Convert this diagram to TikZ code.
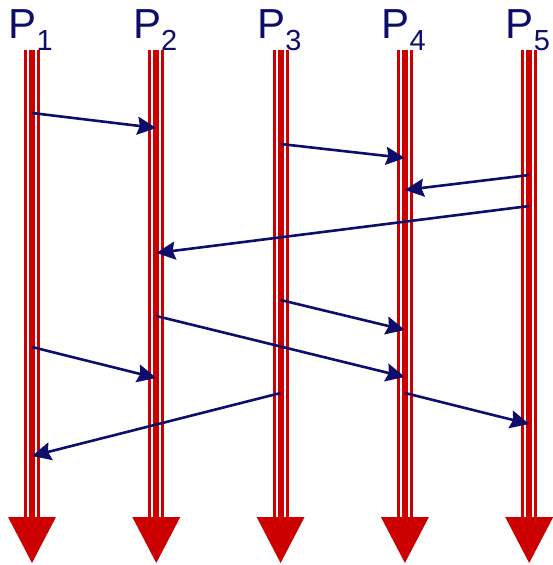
\documentclass[tikz,border=0pt]{standalone}
\usepackage{fontspec}
\setmainfont{Liberation Sans}
\usetikzlibrary{arrows.meta, calc}
\definecolor{cred}{HTML}{CC0000}
\definecolor{cnavy}{HTML}{0D0D6B}
\tikzset{
  every picture/.style={x=1pt, y=-1pt},
  proc/.style={draw=cred, line width=16pt},
  gap/.style={draw=white, line width=10pt},
  core/.style={draw=cred, line width=5.8pt},
  msg/.style={-{Stealth[length=19pt, width=18pt, inset=2.5pt]}, draw=cnavy, line width=2.6pt},
  plabel/.style={anchor=base west, inner sep=0pt, text=cnavy, font=\fontsize{42}{42}\selectfont},
}
\begin{document}
\begin{tikzpicture}
  \useasboundingbox (0,0) rectangle (553,565);
  % processes
  \foreach \i in {1,...,5} {
    \pgfmathsetmacro{\px}{32+124.3*(\i-1)}
    \coordinate (c\i) at (\px,0);
    \coordinate (e\i) at (\px,518);
    \draw[proc] ($(c\i)+(0,50)$) -- (e\i);
    \draw[gap] ($(c\i)+(0,50)$) -- (e\i);
    \draw[core] ($(c\i)+(0,50)$) -- (e\i);
    \fill[cred] ($(e\i)+(-24,-1)$) -- ($(e\i)+(24,-1)$) -- ($(e\i)+(0,45)$) -- cycle;
    \node[plabel] (p\i) at ($(c\i)+(-23.5,38.5)$) {P\raisebox{-11.5pt}{\fontsize{29}{29}\selectfont\i}};
  }
  % messages
  \foreach \a/\ya/\b/\yb in {1/113/2/128, 3/144/4/158, 5/175/4/190, 5/206/2/253, 3/300/4/330, 2/316/4/377, 1/347/2/378, 4/393/5/424, 3/393/1/456}
    \draw[msg] ($(c\a)+(0,\ya)$) -- ($(c\b)+(0,\yb)$);
\end{tikzpicture}
\end{document}
